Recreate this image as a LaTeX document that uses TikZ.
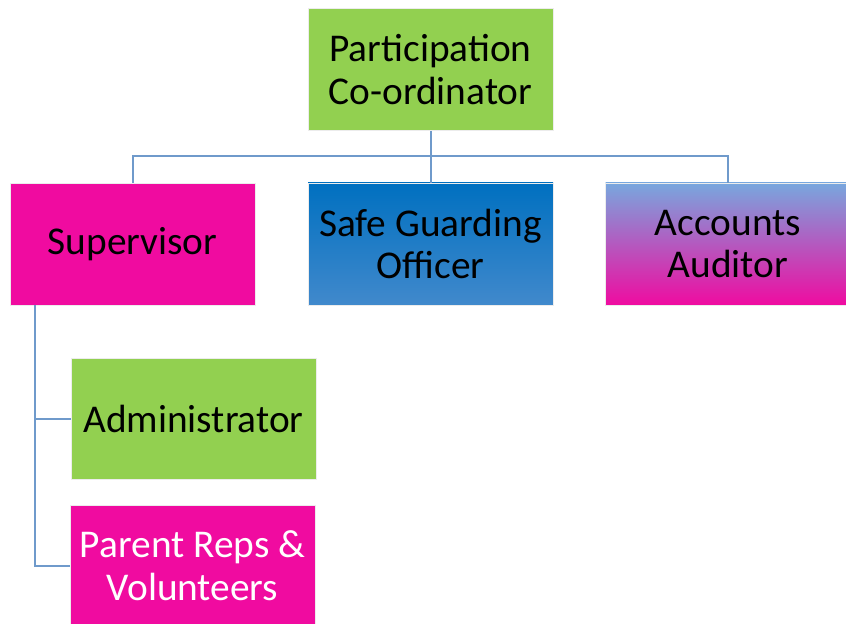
\documentclass[tikz,border=0pt]{standalone}
\usepackage{fontspec}
\setmainfont{Carlito}
\definecolor{cgreen}{HTML}{92D050}
\definecolor{cmag}{HTML}{F00BA0}
\definecolor{cblueT}{HTML}{0070C0}
\definecolor{cblueB}{HTML}{4189CC}
\definecolor{clight}{HTML}{78A7DE}
\definecolor{cline}{HTML}{6F9ACB}
\begin{document}
\begin{tikzpicture}[x=1bp,y=-1bp,
  box/.style={draw=white!85!gray,line width=0.6bp,minimum width=245bp,minimum height=122bp,
    inner sep=0pt,align=center,font=\fontsize{39.5}{43}\selectfont},
  conn/.style={draw=cline,line width=2bp}]
\useasboundingbox (0,0) rectangle (846,624);
\node[box,fill=cgreen] (top) at (430.5,69.5) {Participation\\Co-ordinator};
\node[box,fill=cmag] (sup) at (132.5,244) {Supervisor};
\node[box,top color=cblueT,bottom color=cblueB] (safe) at (430.5,244) {Safe Guarding\\Officer};
\node[box,top color=clight,bottom color=cmag] (acc) at (728,244) {Accounts\\Auditor};
\node[box,fill=cgreen,minimum height=121bp] (adm) at (193.5,418.5) {Administrator};
\node[box,fill=cmag,minimum height=121bp,text=white] (par) at (192.5,565.5) {Parent Reps \&\\Volunteers};
\coordinate (bus) at (0,156);
\coordinate (stem) at (35,305);
\draw[conn] (sup.north) -- (sup.north |- bus) -- (acc.north |- bus) -- (acc.north);
\draw[conn] (top.south) -- (safe.north);
\draw[conn] (stem) |- (par.west);
\draw[conn] (stem |- adm.west) -- (adm.west);
\end{tikzpicture}
\end{document}
